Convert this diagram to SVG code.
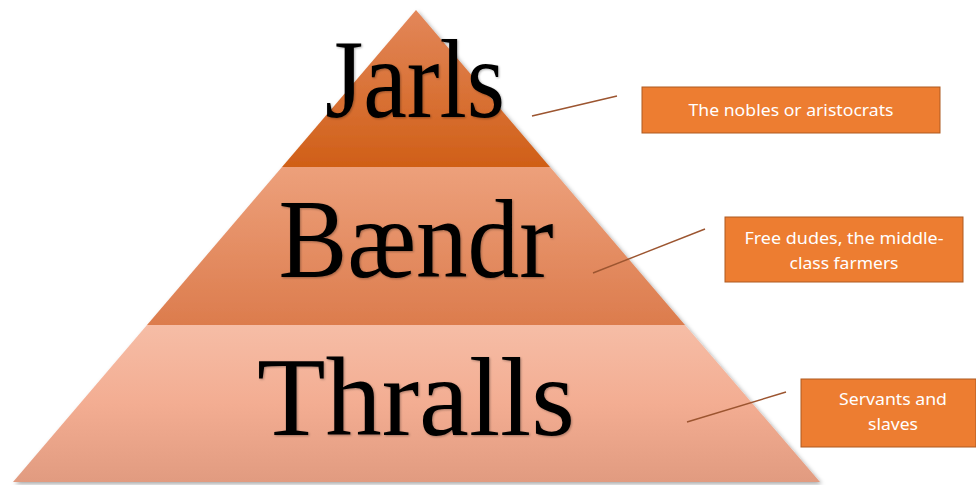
<svg xmlns="http://www.w3.org/2000/svg" width="976" height="485" viewBox="0 0 976 485">
<defs>
<linearGradient id="g1" x1="0" y1="0" x2="0" y2="1"><stop offset="0" stop-color="#e3875a"/><stop offset="1" stop-color="#d05f17"/></linearGradient>
<linearGradient id="g2" x1="0" y1="0" x2="0" y2="1"><stop offset="0" stop-color="#eda07b"/><stop offset="1" stop-color="#dc7c4d"/></linearGradient>
<linearGradient id="g3" x1="0" y1="0" x2="0" y2="1"><stop offset="0" stop-color="#f6bda6"/><stop offset="0.5" stop-color="#f3ad92"/><stop offset="1" stop-color="#e19b80"/></linearGradient>
<filter id="sh" x="-10%" y="-10%" width="120%" height="120%"><feDropShadow dx="2" dy="2" stdDeviation="2" flood-color="#000" flood-opacity="0.35"/></filter>
<filter id="tsh" x="-10%" y="-10%" width="120%" height="120%"><feDropShadow dx="1" dy="1" stdDeviation="1" flood-color="#000" flood-opacity="0.3"/></filter>
</defs>
<style>
.big{font-family:"Liberation Serif","DejaVu Serif",serif;font-size:112px;fill:#000;text-anchor:middle}
.box{fill:#ed7d31;stroke:#ae5a21;stroke-width:1}
.lbl{font-family:"Noto Sans","Liberation Sans",sans-serif;font-size:16px;fill:#fff;text-anchor:middle}
.con{stroke:#9c5530;stroke-width:1.4;fill:none}
</style>
<rect width="976" height="485" fill="#fff"/>
<g id="pyramid" filter="url(#sh)">
<g id="jarls">
<polygon points="416,10 550,167 282,167" fill="url(#g1)"/>
</g>
<g id="baendr">
<polygon points="282,167 550,167 685,325 147,325" fill="url(#g2)"/>
</g>
<g id="thralls">
<polygon points="147,325 685,325 820,482 13,482" fill="url(#g3)"/>
</g>
</g>
<g id="titles" filter="url(#tsh)">
<text class="big" x="415" y="117" textLength="180" lengthAdjust="spacingAndGlyphs">Jarls</text>
<text class="big" x="416" y="277" textLength="275" lengthAdjust="spacingAndGlyphs">Bændr</text>
<text class="big" x="416" y="435" textLength="318" lengthAdjust="spacingAndGlyphs">Thralls</text>
</g>
<g id="connectors">
<line class="con" x1="532" y1="116" x2="617" y2="96"/>
<line class="con" x1="593" y1="273" x2="705" y2="229"/>
<line class="con" x1="687" y1="422" x2="786" y2="392"/>
</g>
<g id="label1">
<rect class="box" x="642" y="87" width="298" height="46"/>
<text class="lbl" x="791" y="116" textLength="205" lengthAdjust="spacingAndGlyphs">The nobles or aristocrats</text>
</g>
<g id="label2">
<rect class="box" x="725" y="217" width="238" height="65"/>
<text class="lbl" x="844" y="244" textLength="199" lengthAdjust="spacingAndGlyphs">Free dudes, the middle-</text>
<text class="lbl" x="844" y="269" textLength="109" lengthAdjust="spacingAndGlyphs">class farmers</text>
</g>
<g id="label3">
<rect class="box" x="801" y="379" width="175" height="68"/>
<text class="lbl" x="893" y="405" textLength="108" lengthAdjust="spacingAndGlyphs">Servants and</text>
<text class="lbl" x="893" y="430" textLength="50" lengthAdjust="spacingAndGlyphs">slaves</text>
</g>
</svg>
